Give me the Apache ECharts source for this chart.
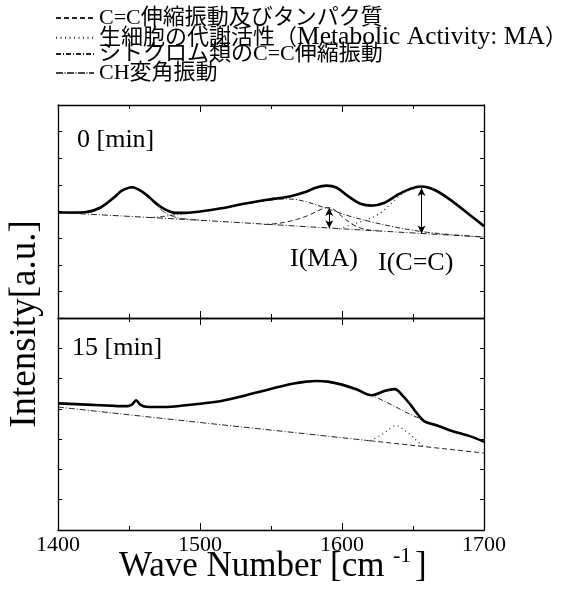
<!DOCTYPE html>
<html><head><meta charset="utf-8">
<script src="https://cdn.jsdelivr.net/npm/echarts@6/dist/echarts.min.js"></script>
<style>html,body{margin:0;padding:0;background:#fff}#c{width:574px;height:593px}</style>
</head><body><div id="c"></div>
<script>
// ---- legend names ----
const legendNames = ['C=C伸縮振動及びタンパク質','生細胞の代謝活性（Metabolic Activity: MA）','シトクロム類のC=C伸縮振動','CH変角振動'];
const panelLabels = ['0 [min]','15 [min]'];
const xTickMin = 1400, xTickMax = 1700, xTickStep = 100;

// ---- top panel (0 min) ----
const wnTopSolid = [1400,1410,1420,1430,1440,1445,1452,1460,1468,1475,1483,1490,1500,1515,1530,1545,1555,1563,1573,1582,1589,1596,1605,1613,1621,1630,1639,1648,1656,1666,1678,1690,1700];
const topSolid   = [3.96,3.96,3.98,4.15,4.55,4.78,4.91,4.72,4.36,4.09,3.95,3.95,4.00,4.12,4.28,4.42,4.50,4.56,4.71,4.90,4.97,4.90,4.55,4.29,4.22,4.33,4.62,4.85,4.94,4.79,4.37,3.87,3.45];
const wnTopBase = [1400,1500,1600,1700];
const topBase   = [3.96,3.67,3.35,3.04];
const wnTopCH = [1405,1420,1430,1440,1445,1452,1460,1468,1475,1483,1492,1500];
const topCH   = [3.94,3.95,4.12,4.52,4.75,4.88,4.68,4.30,3.97,3.78,3.71,3.68];
const wnTopCyto = [1465,1475,1485,1500,1515,1530,1545,1555,1563,1575,1591,1605,1620,1635,1648,1660,1675,1690,1700];
const topCyto   = [3.77,3.82,3.90,4.00,4.12,4.27,4.40,4.46,4.47,4.36,4.08,3.83,3.62,3.44,3.31,3.22,3.14,3.08,3.04];
const wnTopDash = [1545,1556,1568,1577,1586,1590,1595,1600,1608,1616,1625];
const topDash   = [3.51,3.56,3.70,3.87,4.10,4.15,4.05,3.81,3.50,3.33,3.28];
const wnTopDot = [1598,1606,1617,1627,1636,1643,1652,1658,1666,1678,1690,1700];
const topDot   = [3.34,3.50,3.68,3.94,4.37,4.69,4.88,4.92,4.79,4.37,3.87,3.45];
const arrowX    = [1591,1656];
const arrowLow  = [3.37,3.17];
const arrowHigh = [4.13,4.88];
const arrowText = ['I(MA)','I(C=C)'];

// ---- bottom panel (15 min) ----
const wnBotSolid = [1400,1420,1440,1449,1452,1455,1458,1462,1475,1490,1500,1515,1530,1545,1555,1565,1575,1582,1590,1600,1610,1621,1630,1637,1643,1648,1653,1658,1667,1678,1690,1700];
const botSolid   = [4.18,4.14,4.10,4.09,4.14,4.28,4.14,4.07,4.06,4.12,4.17,4.26,4.42,4.60,4.72,4.83,4.90,4.92,4.90,4.80,4.65,4.45,4.59,4.65,4.42,4.15,3.84,3.59,3.45,3.26,3.10,2.91];
const wnBotBase = [1400,1500,1550,1620];
const botBase   = [4.06,3.55,3.30,2.945];
const wnBotDash = [1620,1700];
const botDash   = [2.945,2.54];
const wnBotCyto = [1619,1630,1640,1648,1656];
const botCyto   = [4.48,4.25,4.01,3.82,3.66];
const wnBotDot = [1620,1628,1633,1638,1643,1648,1653,1657];
const botDot   = [2.95,3.15,3.32,3.45,3.33,3.15,2.93,2.78];

const SERIF = "'Liberation Serif','Times New Roman','Noto Sans CJK JP',serif";
const zip = (a,b) => a.map((v,i)=>[v,b[i]]);
const DASH = [5,3], DOT = [1,3.5], DASHDOT = [5,2,1,2], CHSTYLE = [7,1.5,1,1.5], BASESTYLE = [6,2,1,2];

function ln(name, xs, ys, g, dash, width, color) {
  return {type:'line', name: name, xAxisIndex: g*2, yAxisIndex: g*2, data: zip(xs,ys),
    symbol:'none', showSymbol:false, smooth:0.35, silent:true,
    lineStyle:{color: color||'#222', width: width||1, type: dash||'solid'},
    itemStyle:{color: color||'#222'}, z: width>1?5:3};
}

function xAx(g, pos, labels) {
  return {type:'value', gridIndex:g, position:pos, min:xTickMin, max:xTickMax, interval:xTickStep,
    axisLine:{show:true, onZero:false, lineStyle:{color:'#000', width:1.3}},
    axisTick:{show:true, inside:true, length:7, lineStyle:{color:'#000', width:1}},
    minorTick:{show:true, splitNumber:2, length:4, lineStyle:{color:'#000', width:1}},
    splitLine:{show:false}, minorSplitLine:{show:false},
    axisLabel:{show:labels, color:'#000', fontSize:22, fontFamily:SERIF, margin:4, formatter: v => String(v)}};
}
function yAx(g, pos, max) {
  return {type:'value', gridIndex:g, position:pos, min:0, max:max, interval:1,
    axisLine:{show:true, onZero:false, lineStyle:{color:'#000', width:1.3}},
    axisTick:{show:true, inside:true, length:4, lineStyle:{color:'#000', width:1}},
    splitLine:{show:false}, axisLabel:{show:false}};
}

const chart = echarts.init(document.getElementById('c'), null, {renderer:'canvas'});
const legends = legendNames.map((n,i)=>({
  data:[n], left:55, top:[7,25,43,62][i], padding:0, itemWidth:38, itemHeight:14, itemGap:5,
  selectedMode:false, itemStyle:{opacity:0, borderWidth:0},
  formatter: i===1 ? (() => '{c|生細胞の代謝活性（}{l|Metabolic Activity: MA}{c|）}') : undefined,
  textStyle:{fontSize:22, fontFamily:SERIF, color:'#000', lineHeight:22,
    rich:{c:{fontSize:22, fontFamily:SERIF, color:'#000'}, l:{fontSize:25.5, fontFamily:SERIF, color:'#000'}}}
}));

chart.setOption({
  animation:false,
  backgroundColor:'#fff',
  legend: legends,
  grid:[
    {left:58, right:90, top:105, height:213},
    {left:58, right:90, top:318, height:212}
  ],
  xAxis:[xAx(0,'bottom',false), xAx(0,'top',false), xAx(1,'bottom',true), xAx(1,'top',false)],
  yAxis:[yAx(0,'left',8), yAx(0,'right',8), yAx(1,'left',7), yAx(1,'right',7)],
  series:[
    ln('baseline0', wnTopBase, topBase, 0, BASESTYLE, 1),
    ln(legendNames[3], wnTopCH, topCH, 0, CHSTYLE, 1, '#444'),
    ln(legendNames[2], wnTopCyto, topCyto, 0, DASHDOT, 1),
    ln(legendNames[0], wnTopDash, topDash, 0, DASH, 1),
    ln(legendNames[1], wnTopDot, topDot, 0, DOT, 1.2),
    ln('spectrum0', wnTopSolid, topSolid, 0, 'solid', 2.6, '#000'),
    {type:'line', xAxisIndex:0, yAxisIndex:0, data:[], silent:true,
      markLine:{silent:true, symbol:['arrow','arrow'], symbolSize:[6,8], label:{show:false},
        lineStyle:{color:'#000', type:'solid', width:1},
        data: arrowX.map((x,i)=>[{coord:[x,arrowLow[i]]},{coord:[x,arrowHigh[i]]}])}},
    ln('baseline1', wnBotBase, botBase, 1, BASESTYLE, 1),
    ln(legendNames[0], wnBotDash, botDash, 1, DASH, 1),
    ln(legendNames[2], wnBotCyto, botCyto, 1, DASHDOT, 1),
    ln(legendNames[1], wnBotDot, botDot, 1, DOT, 1.2),
    ln('spectrum1', wnBotSolid, botSolid, 1, 'solid', 2.6, '#000')
  ],
  graphic:[
    {type:'text', left:77, top:127, style:{text:panelLabels[0], font:'26px '+SERIF, fill:'#000'}},
    {type:'text', left:72, top:335, style:{text:panelLabels[1], font:'26px '+SERIF, fill:'#000'}},
    {type:'text', left:290, top:246, style:{text:arrowText[0], font:'26px '+SERIF, fill:'#000'}},
    {type:'text', left:378, top:250, style:{text:arrowText[1], font:'26px '+SERIF, fill:'#000'}},
    {type:'text', x:25, y:324, rotation:Math.PI/2, style:{text:'Intensity[a.u.]', font:'37px '+SERIF, fill:'#000', align:'center', verticalAlign:'middle'}},
    {type:'text', left:119, top:549, style:{text:'Wave Number [cm', font:'35px '+SERIF, fill:'#000'}},
    {type:'text', left:393, top:545, style:{text:'-1', font:'22px '+SERIF, fill:'#000'}},
    {type:'text', left:415, top:549, style:{text:']', font:'35px '+SERIF, fill:'#000'}}
  ]
});
</script></body></html>
